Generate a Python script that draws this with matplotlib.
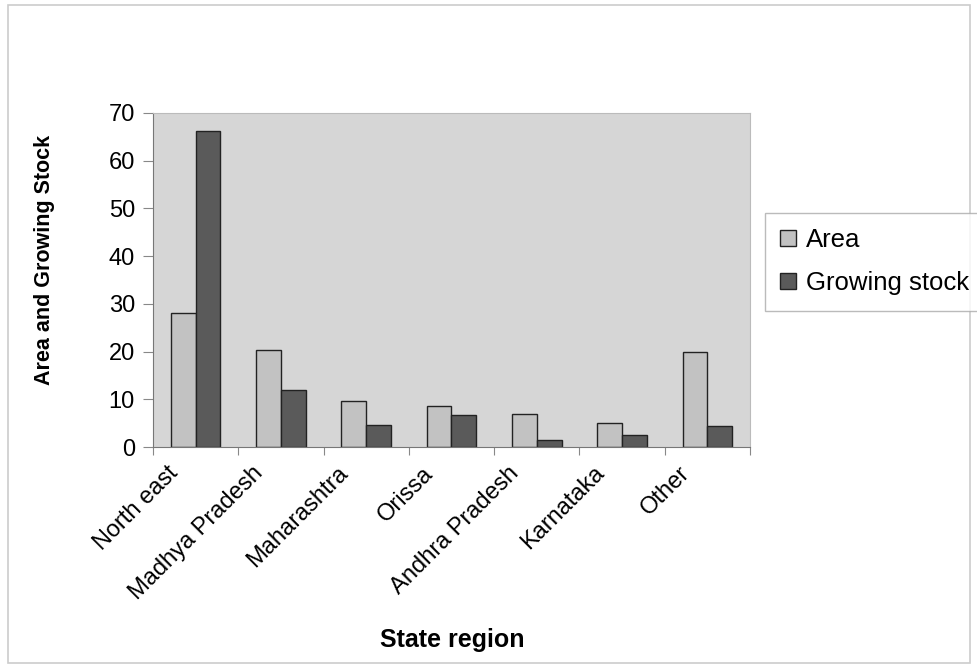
import numpy as np
import matplotlib.pyplot as plt
from matplotlib.patches import Rectangle
from matplotlib.transforms import ScaledTranslation

plt.rcParams['font.family'] = ['Liberation Sans', 'DejaVu Sans']

# values
regions = ['North east', 'Madhya Pradesh', 'Maharashtra', 'Orissa',
           'Andhra Pradesh', 'Karnataka', 'Other']
area = [28.0, 20.3, 9.7, 8.7, 7.0, 5.0, 19.9]
growing_stock = [66.2, 11.9, 4.7, 6.8, 1.5, 2.5, 4.5]

fig = plt.figure(figsize=(9.78, 6.71), dpi=100)
ax = fig.add_axes([0.1564, 0.3338, 0.6105, 0.4978])
ax.set_facecolor('#d6d6d6')

x = np.arange(len(regions))
w = 0.29
ax.bar(x - w / 2, area, w, color='#c2c2c2', edgecolor='#222222', linewidth=1, label='Area')
ax.bar(x + w / 2, growing_stock, w, color='#5a5a5a', edgecolor='#222222', linewidth=1,
       label='Growing stock')

ax.set_xlim(-0.5, len(regions) - 0.5)
ax.set_ylim(0, 70)
ax.set_yticks(range(0, 71, 10))
ax.set_xticks(np.arange(len(regions) + 1) - 0.5, minor=False)
ax.set_xticklabels([])
ax.set_xticks(x, minor=True)
ax.set_xticklabels(regions, minor=True, rotation=45, ha='right', va='top',
                   rotation_mode='anchor', fontsize=17)
ax.tick_params(axis='x', which='minor', length=0, pad=11)
ax.tick_params(axis='x', which='major', length=6, color='#888888', direction='out')
ax.tick_params(axis='y', labelsize=17, length=7, color='#888888', pad=6)

# shift the rotated labels left, like the original
shift = ScaledTranslation(-29 / 100, 0, fig.dpi_scale_trans)
for lab in ax.get_xticklabels(minor=True):
    lab.set_transform(lab.get_transform() + shift)

for side in ['top', 'right']:
    ax.spines[side].set_color('#bbbbbb')
for side in ['left', 'bottom']:
    ax.spines[side].set_color('#777777')

fig.text(0.462, 0.046, 'State region', ha='center', va='center', fontsize=18, fontweight='bold')
fig.text(0.046, 0.612, 'Area and Growing Stock', ha='center', va='center', rotation=90,
         fontsize=15.5, fontweight='bold')

leg = fig.legend(loc='upper left', bbox_to_anchor=(0.782, 0.683), fontsize=18.5,
                 frameon=True, fancybox=False, edgecolor='#aaaaaa', handlelength=0.6,
                 handleheight=0.6, handletextpad=0.4, labelspacing=0.75, borderpad=0.6,
                 borderaxespad=0)

fig.patches.append(Rectangle((0.008, 0.012), 0.984, 0.98, transform=fig.transFigure,
                             fill=False, edgecolor='#cccccc', linewidth=1.2))

fig.savefig('out.png', dpi=100)
